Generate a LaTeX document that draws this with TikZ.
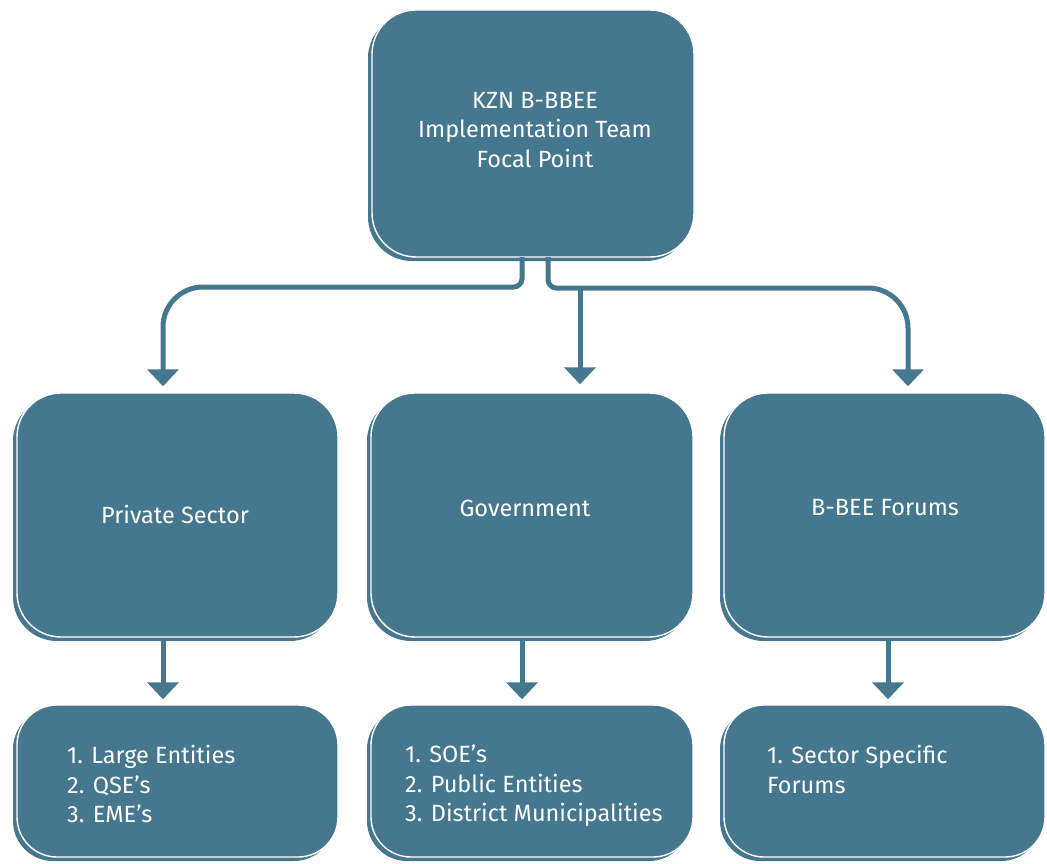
\documentclass[tikz,border=0pt]{standalone}
\usepackage{fontspec}
\setmainfont{Fira Sans}
\usetikzlibrary{arrows.meta,shadows,calc}
\definecolor{boxc}{RGB}{69,119,143}
\begin{document}
\begin{tikzpicture}[x=1pt,y=-1pt,
  box/.style={rectangle, fill=boxc, draw=white, line width=1.4pt, rounded corners=#1,
    general shadow={shadow xshift=-4pt, shadow yshift=-4pt, fill=boxc}},
  box/.default=44pt,
  lbl/.style={text=white, font=\fontsize{23.5}{29.5}\selectfont, align=center, inner sep=0pt},
  lst/.style={text=white, font=\fontsize{23.5}{29.5}\selectfont, align=left, inner sep=0pt, anchor=north west},
  conn/.style={draw=boxc, line width=5pt, -{Triangle[width=31pt,length=17pt]}},
  stub/.style={draw=boxc, line width=5pt}
]
\useasboundingbox (0,0) rectangle (1047,864);
% boxes
\node[box, minimum width=322pt, minimum height=247pt] (top) at (533,133.5) {};
\node[box, minimum width=321pt, minimum height=244pt] (ps) at (177.5,515) {};
\node[box, minimum width=322pt, minimum height=244pt] (gov) at (532,515) {};
\node[box, minimum width=321pt, minimum height=244pt] (bf) at (884.5,515) {};
\node[box=40pt, minimum width=321pt, minimum height=152pt] (l1) at (177.5,781) {};
\node[box=40pt, minimum width=322pt, minimum height=152pt] (l2) at (532,781) {};
\node[box=40pt, minimum width=321pt, minimum height=152pt] (l3) at (884.5,781) {};
% texts
\node[lbl] (ttop) at (535,130) {KZN B-BBEE\\Implementation Team\\Focal Point};
\node[lbl] (tps) at (175,514) {Private Sector};
\node[lbl] (tgov) at (525,508) {Government};
\node[lbl] (tbf) at (885,508) {B-BEE Forums};
\node[lst] (t1) at (67,745) {1. Large Entities\\2. QSE’s\\3. EME’s};
\node[lst] (t2) at (405,745) {1. SOE’s\\2. Public Entities\\3. District Municipalities};
\node[lst] (t3) at (767,745) {1. Sector Specific\\Forums};
% connector coordinates
\coordinate (sL) at (522,257);
\coordinate (sR) at (548,257);
\coordinate (hM) at (580,288);
% connectors from top
\draw[conn, shorten >=6pt] (sL) -- (522,279) .. controls (522,283.4) and (517.6,287) .. (514,287) -- (203,287)
   .. controls (181,287) and (163,305) .. (163,327) -- (ps.north -| 163,0);
\draw[conn, shorten >=6pt] (sR) -- (548,280) .. controls (548,284.4) and (552.4,288) .. (556,288) -- (868,288)
   .. controls (890,288) and (908,306) .. (908,328) -- (bf.north -| 908,0);
\draw[conn, shorten >=8pt] (hM) -- (gov.north -| hM);
% lower connectors
\draw[conn, shorten >=5pt] (ps.south -| 163,0) -- (l1.north -| 163,0);
\draw[conn, shorten >=5pt] (gov.south -| 522,0) -- (l2.north -| 522,0);
\draw[conn, shorten >=5pt] (bf.south -| 888,0) -- (l3.north -| 888,0);
\end{tikzpicture}
\end{document}
